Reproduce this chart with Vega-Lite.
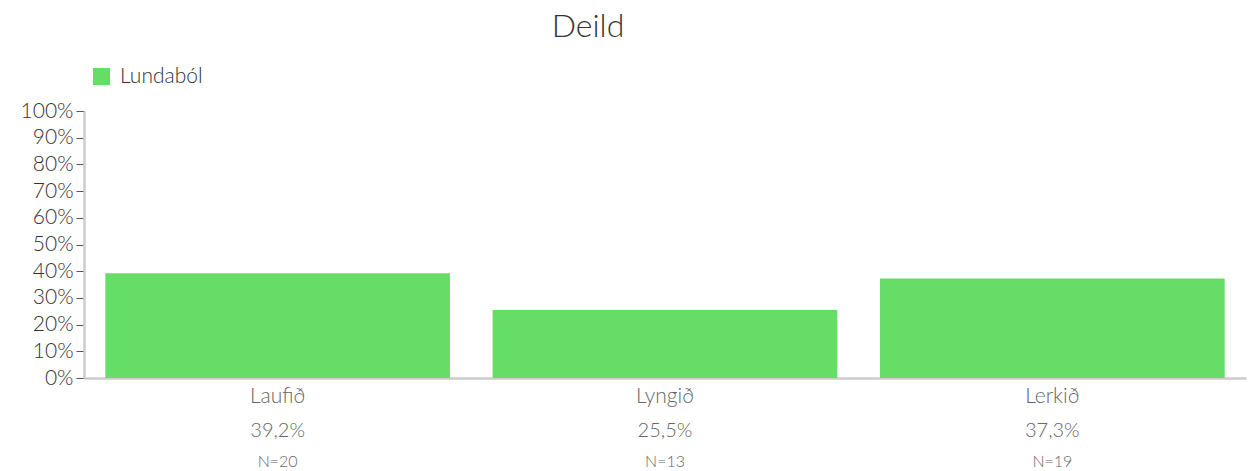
{
  "$schema": "https://vega.github.io/schema/vega-lite/v6.json",
  "width": 1162,
  "height": 267,
  "autosize": {"type": "none"},
  "padding": {"left": 84, "top": 111, "right": 2, "bottom": 93},
  "background": "white",
  "config": {
    "font": "Lato",
    "view": {"stroke": null},
    "axis": {"grid": false}
  },
  "title": {
    "text": "Deild",
    "fontSize": 32,
    "fontWeight": 300,
    "color": "#333333",
    "anchor": "middle",
    "frame": "group",
    "dx": -77,
    "offset": 22
  },
  "data": {
    "values": [
      {"cat": "Laufið", "value": 0.392, "pct": "39,2%", "n": "N=20", "series": "Lundaból"},
      {"cat": "Lyngið", "value": 0.255, "pct": "25,5%", "n": "N=13", "series": "Lundaból"},
      {"cat": "Lerkið", "value": 0.373, "pct": "37,3%", "n": "N=19", "series": "Lundaból"}
    ]
  },
  "resolve": {"axis": {"y": "independent"}},
  "encoding": {
    "x": {
      "field": "cat",
      "type": "nominal",
      "sort": null,
      "scale": {"paddingInner": 0.11, "paddingOuter": 0.055},
      "axis": {
        "title": null,
        "labels": false,
        "ticks": false,
        "domainColor": "#cccccc",
        "domainWidth": 2.5
      }
    }
  },
  "layer": [
    {
      "mark": {"type": "bar", "color": "#66dd66"},
      "encoding": {
        "y": {
          "field": "value",
          "type": "quantitative",
          "scale": {"domain": [0, 1]},
          "axis": {
            "title": null,
            "values": [0, 0.1, 0.2, 0.3, 0.4, 0.5, 0.6, 0.7, 0.8, 0.9, 1],
            "format": ".0%",
            "labelOverlap": false,
            "labelFontSize": 21,
            "labelFontWeight": 300,
            "labelColor": "#333333",
            "labelFont": "Lato",
            "labelPadding": 3,
            "tickSize": 8,
            "tickColor": "#555555",
            "domainColor": "#cccccc",
            "domainWidth": 2.5
          }
        },
        "color": {
          "field": "series",
          "type": "nominal",
          "scale": {"range": ["#66dd66"]},
          "legend": {
            "title": null,
            "orient": "none",
            "legendX": 7,
            "legendY": -45,
            "padding": 0,
            "symbolType": "square",
            "symbolSize": 289,
            "symbolStrokeWidth": 0,
            "labelFontSize": 21,
            "labelFontWeight": 300,
            "labelColor": "#333333",
            "labelOffset": 8
          }
        }
      }
    },
    {
      "mark": {"type": "text", "fontSize": 21, "fontWeight": 300, "color": "#666666", "baseline": "alphabetic", "dy": 25},
      "encoding": {"y": {"datum": 0, "type": "quantitative", "axis": null}, "text": {"field": "cat"}}
    },
    {
      "mark": {"type": "text", "fontSize": 20, "fontWeight": 300, "color": "#666666", "baseline": "alphabetic", "dy": 59},
      "encoding": {"y": {"datum": 0, "type": "quantitative", "axis": null}, "text": {"field": "pct"}}
    },
    {
      "mark": {"type": "text", "fontSize": 16, "fontWeight": 300, "color": "#666666", "baseline": "alphabetic", "dy": 89},
      "encoding": {"y": {"datum": 0, "type": "quantitative", "axis": null}, "text": {"field": "n"}}
    }
  ]
}
